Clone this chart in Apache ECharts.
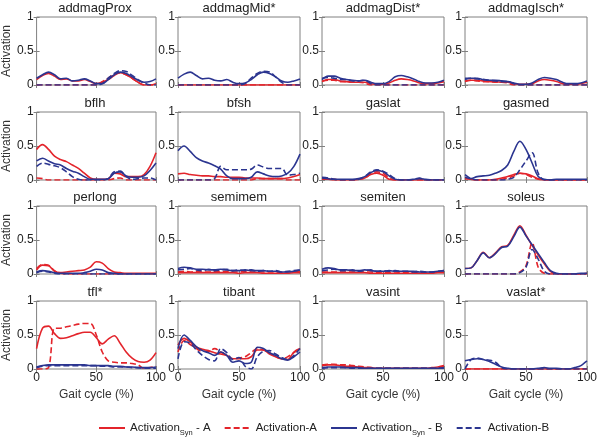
<!DOCTYPE html>
<html><head><meta charset="utf-8">
<script src="https://cdn.jsdelivr.net/npm/echarts@6/dist/echarts.min.js"></script>
<style>html,body{margin:0;padding:0;background:#fff}#c{width:600px;height:437px}</style>
</head><body><div id="c"></div>
<script>
// Gait cycle sample points (%)
const gait = [0,5,10,15,20,25,30,35,40,45,50,55,60,65,70,75,80,85,90,95,100];
const xTicks = [0,50,100];
const yTicks = [0,0.5,1];
const muscles = ['addmagProx','addmagMid*','addmagDist*','addmagIsch*','bflh','bfsh','gaslat','gasmed','perlong','semimem','semiten','soleus','tfl*','tibant','vasint','vaslat*'];
const seriesNames = ['ActivationSyn - A','Activation-A','ActivationSyn - B','Activation-B'];

// SA = Activation_Syn - A, A = Activation-A, SB = Activation_Syn - B, B = Activation-B
const addmagProx_SA = [0.08,0.14,0.17,0.13,0.08,0.09,0.06,0.06,0.08,0.05,0.02,0.04,0.08,0.14,0.18,0.15,0.10,0.04,0.00,0.00,0.02];
const addmagProx_A  = [0,0,0,0,0,0,0,0,0,0,0,0.05,0.10,0.16,0.18,0.15,0.10,0.04,0,0,0];
const addmagProx_SB = [0.10,0.15,0.19,0.15,0.09,0.10,0.06,0.07,0.09,0.06,0.02,0.02,0.08,0.15,0.19,0.17,0.12,0.07,0.04,0.05,0.09];
const addmagProx_B  = [0,0,0,0,0,0,0,0,0,0,0,0.02,0.10,0.17,0.21,0.20,0.14,0.08,0.03,0,0];

const addmagMid_SA = [0,0,0,0,0,0,0,0,0,0,0,0,0,0,0,0,0,0,0,0,0];
const addmagMid_A  = [0,0,0,0,0,0,0,0,0,0,0,0,0,0,0,0,0,0,0,0,0];
const addmagMid_SB = [0.10,0.16,0.19,0.14,0.09,0.10,0.07,0.06,0.08,0.04,0.02,0.03,0.08,0.15,0.19,0.17,0.12,0.06,0.04,0.06,0.09];
const addmagMid_B  = [0,0,0,0,0,0,0,0,0,0,0,0.02,0.10,0.17,0.20,0.19,0.12,0.04,0,0,0];

const addmagDist_SA = [0.05,0.08,0.08,0.06,0.05,0.04,0.04,0.04,0.02,0.01,0.01,0.03,0.07,0.09,0.08,0.06,0.03,0.02,0.02,0.03,0.05];
const addmagDist_A  = [0.06,0.07,0.07,0.05,0.05,0.04,0.04,0.03,0,0,0,0,0,0,0,0,0,0,0,0,0];
const addmagDist_SB = [0.08,0.13,0.13,0.10,0.08,0.07,0.06,0.07,0.04,0.02,0.02,0.05,0.12,0.14,0.12,0.09,0.05,0.03,0.03,0.04,0.07];
const addmagDist_B  = [0.10,0.11,0.10,0.08,0.08,0.06,0.06,0.07,0.02,0,0,0,0,0,0,0,0,0,0,0,0];

const addmagIsch_SA = [0.05,0.07,0.07,0.06,0.05,0.05,0.04,0.04,0.02,0.01,0.01,0.02,0.06,0.08,0.07,0.05,0.02,0.01,0.01,0.02,0.04];
const addmagIsch_A  = [0.06,0.07,0.06,0.05,0.05,0.04,0.04,0.03,0,0,0,0,0,0,0,0,0,0,0,0,0];
const addmagIsch_SB = [0.08,0.10,0.10,0.08,0.07,0.07,0.06,0.05,0.03,0.01,0.01,0.03,0.08,0.11,0.10,0.08,0.04,0.02,0.02,0.03,0.06];
const addmagIsch_B  = [0.10,0.10,0.09,0.08,0.07,0.06,0.05,0.05,0.02,0,0,0,0,0,0,0,0,0,0,0,0];

const bflh_SA = [0.45,0.52,0.45,0.35,0.30,0.27,0.22,0.17,0.10,0.03,0.01,0.01,0.02,0.10,0.09,0.05,0.05,0.05,0.08,0.20,0.40];
const bflh_A  = [0.03,0.02,0,0,0,0,0,0,0,0,0,0,0,0.02,0.03,0,0,0,0,0,0];
const bflh_SB = [0.28,0.32,0.28,0.24,0.22,0.17,0.13,0.10,0.05,0.01,0.01,0.01,0.02,0.10,0.12,0.06,0.04,0.04,0.06,0.14,0.25];
const bflh_B  = [0.20,0.25,0.23,0.21,0.18,0.12,0.05,0.01,0,0,0,0,0.02,0.12,0.13,0.05,0.01,0.02,0.03,0.03,0];

const bfsh_SA = [0.09,0.10,0.08,0.07,0.06,0.06,0.05,0.05,0.04,0.04,0.04,0.03,0.03,0.03,0.02,0.02,0.02,0.02,0.03,0.05,0.08];
const bfsh_A  = [0,0,0,0,0,0,0,0,0,0,0,0,0,0.02,0.02,0.02,0.02,0.02,0,0,0];
const bfsh_SB = [0.43,0.50,0.42,0.33,0.28,0.25,0.21,0.16,0.06,0.02,0.02,0.02,0.04,0.12,0.09,0.06,0.05,0.06,0.10,0.20,0.38];
const bfsh_B  = [0,0,0,0,0,0,0.02,0.20,0.15,0.15,0.15,0.15,0.16,0.22,0.19,0.17,0.17,0.17,0.07,0.08,0.10];

const gaslat_SA = [0.01,0.01,0,0,0,0,0.01,0.03,0.08,0.10,0.07,0.01,0,0,0,0,0,0,0,0,0];
const gaslat_A  = [0.02,0.02,0.01,0,0,0,0.01,0.03,0.09,0.12,0.10,0.03,0,0,0,0,0,0,0,0,0];
const gaslat_SB = [0.03,0.02,0.01,0.01,0.01,0.01,0.02,0.05,0.11,0.14,0.12,0.06,0.01,0,0,0.01,0.02,0.01,0,0,0];
const gaslat_B  = [0.04,0.03,0.01,0,0,0,0.01,0.05,0.12,0.15,0.13,0.08,0.02,0,0,0.01,0.03,0,0,0,0];

const gasmed_SA = [0.03,0.01,0,0,0,0.01,0.03,0.05,0.08,0.10,0.09,0.06,0.02,0,0,0,0,0,0,0,0];
const gasmed_A  = [0.02,0.01,0,0,0,0,0.01,0.03,0.06,0.10,0.08,0.04,0.01,0,0,0,0,0,0,0,0];
const gasmed_SB = [0.04,0.02,0.05,0.06,0.07,0.10,0.14,0.22,0.42,0.57,0.45,0.25,0.05,0.01,0,0.01,0.01,0.01,0.01,0.01,0.01];
const gasmed_B  = [0.08,0.02,0,0,0,0,0,0.01,0.04,0.15,0.28,0.40,0.10,0,0,0,0,0,0,0,0];

const perlong_SA = [0.06,0.13,0.12,0.04,0.02,0.03,0.04,0.05,0.06,0.10,0.18,0.16,0.08,0.03,0.02,0.01,0.01,0.01,0.01,0.01,0.01];
const perlong_A  = [0.08,0.14,0.13,0.05,0.01,0,0,0,0,0,0,0,0,0,0,0,0,0,0,0,0];
const perlong_SB = [0.03,0.05,0.04,0.02,0.01,0.01,0.01,0.01,0.02,0.04,0.07,0.06,0.02,0.01,0,0,0,0,0,0,0];
const perlong_B  = [0.02,0.04,0.03,0.01,0,0,0,0,0,0,0,0,0,0,0,0,0,0,0,0,0];

const semimem_SA = [0.02,0.02,0.02,0.02,0.02,0.02,0.02,0.02,0.02,0.02,0.01,0.02,0.02,0.02,0.01,0.01,0.01,0.01,0.01,0.02,0.02];
const semimem_A  = [0.03,0.04,0.03,0.04,0.03,0.03,0.04,0.03,0.04,0.03,0.03,0.04,0.03,0.03,0.03,0.03,0.03,0.02,0.03,0.03,0.04];
const semimem_SB = [0.08,0.10,0.09,0.07,0.07,0.06,0.06,0.07,0.06,0.05,0.05,0.06,0.05,0.05,0.05,0.04,0.04,0.03,0.03,0.04,0.06];
const semimem_B  = [0.06,0.07,0.08,0.06,0.05,0.07,0.05,0.06,0.07,0.05,0.06,0.05,0.06,0.04,0.05,0.04,0.05,0.03,0.04,0.05,0.06];

const semiten_SA = [0.02,0.02,0.02,0.02,0.02,0.02,0.02,0.02,0.01,0.01,0.01,0.01,0.01,0.01,0.01,0.01,0.01,0.01,0.01,0.02,0.02];
const semiten_A  = [0.03,0.03,0.03,0.03,0.03,0.03,0.03,0.03,0.03,0.02,0.03,0.02,0.03,0.02,0.02,0.03,0.02,0.02,0.02,0.03,0.03];
const semiten_SB = [0.07,0.09,0.08,0.06,0.06,0.05,0.05,0.06,0.05,0.04,0.04,0.05,0.04,0.04,0.04,0.04,0.03,0.03,0.03,0.04,0.05];
const semiten_B  = [0.05,0.06,0.07,0.05,0.05,0.06,0.04,0.05,0.06,0.04,0.05,0.04,0.05,0.04,0.04,0.03,0.04,0.03,0.03,0.04,0.05];

const soleus_SA = [0.08,0.09,0.20,0.32,0.24,0.31,0.40,0.42,0.57,0.71,0.57,0.42,0.28,0.15,0.04,0,0,0,0,0,0.01];
const soleus_A  = [0,0,0,0,0,0,0,0,0,0.03,0.12,0.46,0.10,0.01,0,0,0,0,0,0,0];
const soleus_SB = [0.08,0.09,0.20,0.31,0.24,0.30,0.39,0.41,0.55,0.69,0.56,0.43,0.30,0.17,0.05,0.01,0,0,0,0.01,0.01];
const soleus_B  = [0,0,0,0,0,0,0,0,0,0.02,0.10,0.36,0.22,0.04,0,0,0,0,0,0,0];

const tfl_SA = [0.30,0.60,0.63,0.52,0.45,0.46,0.49,0.52,0.54,0.54,0.46,0.37,0.44,0.49,0.38,0.25,0.16,0.11,0.10,0.13,0.24];
const tfl_A  = [0,0,0.02,0.60,0.60,0.62,0.64,0.66,0.67,0.67,0.50,0.25,0.12,0.10,0.09,0.09,0.08,0.06,0.01,0.02,0.04];
const tfl_SB = [0.03,0.05,0.06,0.06,0.06,0.06,0.06,0.06,0.06,0.05,0.05,0.05,0.05,0.04,0.04,0.03,0.03,0.02,0.02,0.02,0.03];
const tfl_B  = [0.02,0.04,0.05,0.05,0.05,0.05,0.05,0.05,0.05,0.05,0.05,0.04,0.04,0.03,0.03,0.03,0.02,0.02,0.01,0.01,0.01];

const tibant_SA = [0.35,0.45,0.40,0.32,0.29,0.27,0.24,0.22,0.20,0.15,0.15,0.15,0.18,0.28,0.28,0.22,0.18,0.15,0.14,0.25,0.30];
const tibant_A  = [0.25,0.42,0.36,0.30,0.26,0.26,0.30,0.25,0.20,0.15,0.16,0.18,0.24,0.30,0.28,0.24,0.18,0.15,0.18,0.24,0.30];
const tibant_SB = [0.30,0.50,0.42,0.33,0.27,0.24,0.20,0.25,0.20,0.10,0.12,0.08,0.10,0.32,0.30,0.24,0.20,0.15,0.13,0.18,0.25];
const tibant_B  = [0.15,0.40,0.38,0.28,0.20,0.14,0.12,0.30,0.24,0.14,0.17,0.04,0.00,0.18,0.26,0.27,0.22,0.17,0.14,0.20,0.30];

const vasint_SA = [0.05,0.06,0.06,0.05,0.04,0.04,0.03,0.02,0.02,0.01,0.01,0.01,0.01,0.01,0.01,0.01,0.01,0.01,0.02,0.03,0.05];
const vasint_A  = [0.06,0.07,0.07,0.06,0.06,0.05,0.04,0.03,0.02,0.01,0.01,0.01,0.01,0.01,0.01,0.01,0.01,0.01,0.01,0.02,0.04];
const vasint_SB = [0.02,0.03,0.03,0.03,0.02,0.02,0.02,0.01,0.01,0.01,0.01,0.01,0.01,0.01,0.01,0.01,0.01,0.01,0.01,0.01,0.02];
const vasint_B  = [0.01,0.02,0.02,0.02,0.02,0.01,0.01,0.01,0.01,0.01,0.01,0.01,0.01,0.01,0.01,0.01,0.01,0.01,0.01,0.01,0.01];

const vaslat_SA = [0,0,0,0,0,0,0,0,0,0,0,0,0,0,0,0,0,0,0,0,0];
const vaslat_A  = [0,0,0,0,0,0,0,0,0,0,0,0,0,0,0,0,0,0,0,0,0];
const vaslat_SB = [0.12,0.14,0.15,0.14,0.11,0.07,0.03,0.01,0,0,0,0,0.01,0.02,0.01,0.01,0,0,0.02,0.05,0.12];
const vaslat_B  = [0,0.14,0.16,0.14,0.13,0.10,0.02,0,0,0,0,0,0,0,0,0,0,0,0,0,0];

const panelData = [
  [addmagProx_SA,addmagProx_A,addmagProx_SB,addmagProx_B],
  [addmagMid_SA,addmagMid_A,addmagMid_SB,addmagMid_B],
  [addmagDist_SA,addmagDist_A,addmagDist_SB,addmagDist_B],
  [addmagIsch_SA,addmagIsch_A,addmagIsch_SB,addmagIsch_B],
  [bflh_SA,bflh_A,bflh_SB,bflh_B],
  [bfsh_SA,bfsh_A,bfsh_SB,bfsh_B],
  [gaslat_SA,gaslat_A,gaslat_SB,gaslat_B],
  [gasmed_SA,gasmed_A,gasmed_SB,gasmed_B],
  [perlong_SA,perlong_A,perlong_SB,perlong_B],
  [semimem_SA,semimem_A,semimem_SB,semimem_B],
  [semiten_SA,semiten_A,semiten_SB,semiten_B],
  [soleus_SA,soleus_A,soleus_SB,soleus_B],
  [tfl_SA,tfl_A,tfl_SB,tfl_B],
  [tibant_SA,tibant_A,tibant_SB,tibant_B],
  [vasint_SA,vasint_A,vasint_SB,vasint_B],
  [vaslat_SA,vaslat_A,vaslat_SB,vaslat_B]
];

// layout
const colLeft = [34,178,322,465];
const rowTop = [17,112,206,301];
const pw = 122, ph = 68;
const RED = '#e3242b', BLUE = '#2b3590';
const styles = [
  {color:RED, type:'solid'},
  {color:RED, type:[6,3]},
  {color:BLUE, type:'solid'},
  {color:BLUE, type:[6,3]}
];
const FONT = '"Liberation Sans", Arial, sans-serif';

const grid=[], xAxis=[], yAxis=[], series=[], graphic=[];
muscles.forEach((m,i)=>{
  const r=Math.floor(i/4), c=i%4;
  grid.push({left:colLeft[c], top:rowTop[r], width:pw, height:ph, show:true, borderColor:'#808080', borderWidth:1, backgroundColor:'#fff'});
  const bottomRow = r===3;
  xAxis.push({gridIndex:i, type:'value', min:xTicks[0], max:xTicks[2], interval:50,
    axisLine:{show:false}, splitLine:{show:false},
    axisTick:{inside:true, length:3, lineStyle:{color:'#808080'}},
    axisLabel:{show:bottomRow, fontSize:12, color:'#222', margin:3, fontFamily:FONT},
    name: bottomRow ? 'Gait cycle (%)' : '', nameLocation:'middle', nameGap:20,
    nameTextStyle:{fontSize:12, color:'#333', fontFamily:FONT}});
  xAxis.push({gridIndex:i, type:'value', position:'top', min:0, max:100, interval:50,
    axisLine:{show:false}, splitLine:{show:false}, axisLabel:{show:false},
    axisTick:{inside:true, length:3, lineStyle:{color:'#808080'}}});
  yAxis.push({gridIndex:i, type:'value', min:yTicks[0], max:yTicks[2], interval:0.5,
    axisLine:{show:false}, splitLine:{show:false},
    axisTick:{inside:true, length:3, lineStyle:{color:'#808080'}},
    axisLabel:{fontSize:12, color:'#222', margin:3, fontFamily:FONT},
    name: c===0 ? 'Activation' : '', nameLocation:'middle', nameGap:19, nameRotate:90,
    nameTextStyle:{fontSize:12, color:'#333', fontFamily:FONT}});
  yAxis.push({gridIndex:i, type:'value', position:'right', min:0, max:1, interval:0.5,
    axisLine:{show:false}, splitLine:{show:false}, axisLabel:{show:false},
    axisTick:{inside:true, length:3, lineStyle:{color:'#808080'}}});
  graphic.push({type:'text', x:colLeft[c]+pw/2, y:rowTop[r]-9,
    style:{text:m, fill:'#222', font:'13px '+FONT, align:'center', verticalAlign:'middle'}});
  panelData[i].forEach((arr,k)=>{
    series.push({type:'line', name:seriesNames[k], xAxisIndex:2*i, yAxisIndex:2*i,
      data: gait.map((x,j)=>[x, arr[j]]), showSymbol:false, symbol:'none', smooth:0.35,
      lineStyle:{color:styles[k].color, width:1.6, type:styles[k].type},
      itemStyle:{color:styles[k].color}, silent:true, animation:false, z: 2+k});
  });
});

const chart = echarts.init(document.getElementById('c'), null, {renderer:'canvas'});
chart.setOption({
  animation:false,
  textStyle:{fontFamily:FONT},
  grid, xAxis, yAxis, series, graphic,
  legend:{
    data: seriesNames,
    left:93, top:417, itemWidth:26, itemHeight:10, itemGap:13,
    itemStyle:{opacity:0},
    textStyle:{fontSize:11.5, color:'#222', fontFamily:FONT,
      rich:{a:{fontSize:11.5, color:'#222', fontFamily:FONT},
            s:{fontSize:7.5, color:'#222', fontFamily:FONT, padding:[10,0,0,0]}}},
    formatter: function(n){
      if(n.indexOf('Syn')>=0){ const parts=n.split('Syn'); return '{a|'+parts[0]+'}{s|Syn}{a|'+parts[1]+'}'; }
      return '{a|'+n+'}';
    }
  }
});
</script></body></html>
